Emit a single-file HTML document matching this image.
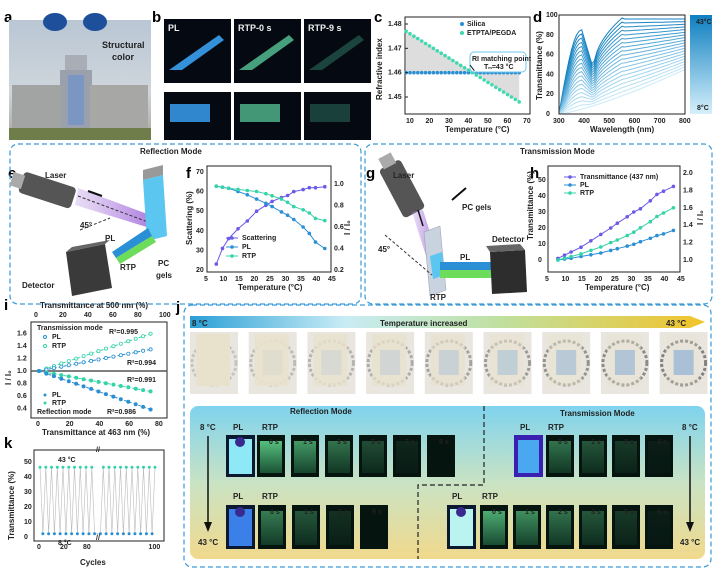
<!DOCTYPE html>
<html><head><meta charset="utf-8"><style>
body{margin:0;background:#fff}
svg{display:block;font-family:"Liberation Sans",Arial,sans-serif}
.L{font-weight:bold;font-size:15px}
.t{font-size:7px;font-weight:bold;fill:#222}
.ax{font-size:8px;font-weight:bold;fill:#222}
</style></head><body>
<svg id="s" width="716" height="569" viewBox="0 0 716 569" xmlns="http://www.w3.org/2000/svg">
<defs>
<linearGradient id="sky" x1="0" y1="0" x2="0" y2="1"><stop offset="0" stop-color="#b9c6d4"/><stop offset="0.6" stop-color="#cfd6dc"/><stop offset="1" stop-color="#a7a79a"/></linearGradient>
<linearGradient id="cb" x1="0" y1="0" x2="0" y2="1"><stop offset="0" stop-color="#0e7fc0"/><stop offset="1" stop-color="#d6f0fb"/></linearGradient>
<linearGradient id="tg" x1="0" y1="0" x2="1" y2="0"><stop offset="0" stop-color="#2a9fd6"/><stop offset="0.3" stop-color="#c8ecf5"/><stop offset="0.6" stop-color="#bfe0a0"/><stop offset="1" stop-color="#f2c42a"/></linearGradient>
<linearGradient id="pg" x1="0" y1="0" x2="0" y2="1"><stop offset="0" stop-color="#7fd3ee"/><stop offset="0.5" stop-color="#c9e3c4"/><stop offset="1" stop-color="#f1d98c"/></linearGradient>
<linearGradient id="beam" x1="0" y1="0" x2="1" y2="0"><stop offset="0" stop-color="#b58fe0" stop-opacity="0.3"/><stop offset="1" stop-color="#9b5fd8" stop-opacity="0.8"/></linearGradient>
<linearGradient id="grn" x1="0" y1="0" x2="0" y2="1"><stop offset="0" stop-color="#5fd28a"/><stop offset="1" stop-color="#1d5a3a"/></linearGradient>
</defs>
<g id="g"></g>
</svg>
<script>
var o='';function a(s){o+=s;}
function T(x,y,s,c,extra){a('<text x="'+x+'" y="'+y+'" '+(c?'class="'+c+'" ':'')+(extra||'')+'>'+s+'</text>');}
function R(x,y,w,h,f,ex){a('<rect x="'+x+'" y="'+y+'" width="'+w+'" height="'+h+'" fill="'+f+'" '+(ex||'')+'/>');}
function P(pts,st,w,ex){a('<polyline fill="none" stroke="'+st+'" stroke-width="'+(w||1)+'" points="'+pts.map(p=>p[0].toFixed(1)+','+p[1].toFixed(1)).join(' ')+'" '+(ex||'')+'/>');}
function C(x,y,r,f,ex){a('<circle cx="'+x.toFixed(1)+'" cy="'+y.toFixed(1)+'" r="'+r+'" fill="'+f+'" '+(ex||'')+'/>');}
function Lg(x1,y1,x2,y2,s,w,ex){a('<line x1="'+x1+'" y1="'+y1+'" x2="'+x2+'" y2="'+y2+'" stroke="'+s+'" stroke-width="'+(w||1)+'" '+(ex||'')+'/>');}
T(4,22,'a','L');T(152,22,'b','L');T(374,22,'c','L');T(533,22,'d','L');
T(8,178,'e','L');T(186,178,'f','L');T(366,178,'g','L');T(530,178,'h','L');
T(4,310,'i','L');T(176,312,'j','L');T(4,448,'k','L');
R(9,20,142,120,'url(#sky)');
a('<ellipse cx="55" cy="22" rx="12" ry="9" fill="#1d4f9a"/><ellipse cx="95" cy="22" rx="12" ry="9" fill="#1d4f9a"/>');
R(65,55,22,20,'#a9aeb6');R(60,70,32,60,'#9aa1ad');R(68,75,16,50,'#7b96c2');
R(12,85,50,45,'#a2a3a3');R(90,85,58,45,'#a7a8a6');R(9,128,142,12,'#6f7d4a');
T(102,48,'Structural','', 'font-size="9" font-weight="bold" fill="#222"');T(112,60,'color','','font-size="9" font-weight="bold" fill="#222"');
var bx=[164,234,304],bl=['PL','RTP-0 s','RTP-9 s'],bc=['#3a9ef0','#4fb08a','#1e4a44'];
for(var i=0;i<3;i++){R(bx[i],19,67,64,'#050a12');R(bx[i],92,67,48,'#050a12');
a('<polygon points="'+(bx[i]+5)+',70 '+(bx[i]+18)+',70 '+(bx[i]+60)+',40 '+(bx[i]+55)+',35" fill="'+bc[i]+'" opacity="0.9"/>');
R(bx[i]+6,104,40,18,bc[i],'opacity="0.85"');
T(bx[i]+4,31,bl[i],'','font-size="9" font-weight="bold" fill="#eee"');}
function cx(t){return 410+(t-10)*117/60}function cy(n){return 24+(1.48-n)*2433}
R(405,17,125,97,'none','stroke="#222"');
a('<polygon points="'+cx(8)+','+cy(1.477)+' '+cx(43)+','+cy(1.46)+' '+cx(8)+','+cy(1.46)+'" fill="#ddd"/>');
a('<polygon points="'+cx(66)+','+cy(1.448)+' '+cx(43)+','+cy(1.46)+' '+cx(66)+','+cy(1.46)+'" fill="#ddd"/>');
for(var t=8;t<=66;t+=2){C(cx(t),cy(1.46),1.8,'#2a8fd4');C(cx(t),cy(1.477-(t-8)*0.029/58),1.8,'#3fd9b0');}
[1.48,1.47,1.46,1.45].forEach(n=>{T(388,cy(n)+2,n.toFixed(2),'t');Lg(405,cy(n),408,cy(n),'#222');});
[10,20,30,40,50,60,70].forEach(v=>T(cx(v)-4,123,v,'t'));
T(445,132,'Temperature (°C)','ax');T(382,100,'Refractive index','ax','transform="rotate(-90 382 100)" font-size="8"');
C(462,24,2,'#2a8fd4');T(467,26,'Silica','t');C(462,33,2,'#3fd9b0');T(467,35,'ETPTA/PEGDA','t');
R(470,52,56,20,'#fff','rx="4" stroke="#6fc8ee" stroke-width="1"');T(472,61,'RI matching point','t','font-size="6"');T(484,69,'T<tspan font-size="4">m</tspan>=43 °C','t','font-size="6"');
Lg(470,65,cx(43),cy(1.46)-2,'#111',1);
function dx(l){return 559+(l-300)*126/500}function dy(v){return 114-v*0.99}
for(var k=0;k<20;k++){var f=k/19,pts=[];for(var l=300;l<=800;l+=10){var u=(l-300)/500;
var hi=(l<390?85*Math.sin((l-300)/90*Math.PI/2):l<437?85-40*(l-390)/47:Math.min(97,45+52*Math.sqrt((l-437)/113)));if(l>550)hi=96;
var lo=45*Math.pow(u,1.3);var v=hi*(1-f)+lo*f;pts.push([dx(l),dy(v)]);}
var c1=[14,127,192],c2=[200,235,250];var col='rgb('+c1.map((c,j)=>Math.round(c+(c2[j]-c)*f)).join(',')+')';P(pts,col,1);}
R(559,15,126,99,'none','stroke="#222"');
[0,20,40,60,80,100].forEach(v=>T(546,dy(v)+2,v,'t'));[300,400,500,600,700,800].forEach(v=>T(dx(v)-6,123,v,'t'));
T(590,132,'Wavelength (nm)','ax');T(542,100,'Transmittance (%)','ax','transform="rotate(-90 542 100)"');
R(690,15,22,99,'url(#cb)');T(696,24,'43°C','t','fill="#fff" font-size="6"');T(697,110,'8°C','t','font-size="6"');
R(10,144,351,160,'none','rx="8" stroke="#3a9ad9" stroke-dasharray="5,3" stroke-width="1.2"');
R(365,144,347,160,'none','rx="8" stroke="#3a9ad9" stroke-dasharray="5,3" stroke-width="1.2"');
T(140,154,'Reflection Mode','ax');T(520,154,'Transmission Mode','ax');
a('<g transform="rotate(18 50 190)"><rect x="20" y="180" width="55" height="22" fill="#555" rx="4"/><rect x="10" y="184" width="12" height="14" fill="#aaa"/></g>');
a('<polygon points="78,188 150,215 150,228 75,205" fill="url(#beam)"/>');Lg(78,196,148,222,'#333',1,'stroke-dasharray="3,2"');
a('<polygon points="143,180 163,175 167,236 147,241" fill="#5bc6f0"/><polygon points="143,180 163,175 163,165 143,170" fill="#999"/>');
a('<polygon points="148,228 112,252 116,258 152,236" fill="#2a8fd4"/><polygon points="152,236 116,258 120,264 156,242" fill="#6ddc5a"/>');
a('<polygon points="66,252 105,244 112,288 72,296" fill="#3a3a3a"/><polygon points="66,252 105,244 110,240 72,247" fill="#666"/>');
T(45,178,'Laser','ax');T(80,228,'45°','ax');T(105,241,'PL','ax');T(120,270,'RTP','ax');T(158,266,'PC','ax');T(156,278,'gels','ax');T(22,288,'Detector','ax');
Lg(80,230,110,218,'#333',1,'stroke-dasharray="3,2"');Lg(88,191,102,196,'#111',2);
function fx(t){return 207+(t-5)*124/40}function fl(s){return 172+(70-s)*98/50}function fr(r){return 184+(1-r)*107.5}
R(207,166,124,106,'none','stroke="#222"');
var ft=[8,10,12,15,18,21,24,26,29,31,33,36,38,40,43],sc=[23,31,36,41,45,50,53,55,57,58,60,61,62,62,62.5],
pl=[.98,.97,.96,.93,.9,.86,.82,.79,.74,.71,.67,.6,.54,.46,.4],rt=[.98,.97,.96,.95,.94,.93,.91,.89,.86,.83,.79,.76,.73,.68,.66];
P(ft.map((t,i)=>[fx(t),fl(sc[i])]),'#6a5ae8',1);ft.forEach((t,i)=>C(fx(t),fl(sc[i]),1.8,'#6a5ae8'));
P(ft.map((t,i)=>[fx(t),fr(pl[i])]),'#2a8fd4',1);ft.forEach((t,i)=>C(fx(t),fr(pl[i]),1.8,'#2a8fd4'));
P(ft.map((t,i)=>[fx(t),fr(rt[i])]),'#35d3a8',1);ft.forEach((t,i)=>C(fx(t),fr(rt[i]),1.8,'#35d3a8'));
[20,30,40,50,60,70].forEach(v=>T(196,fl(v)+2,v,'t'));[0.2,0.4,0.6,0.8,1.0].forEach(v=>T(334,fr(v)+2,v.toFixed(1),'t'));
[5,10,15,20,25,30,35,40,45].forEach(v=>T(fx(v)-3,281,v,'t'));
T(238,290,'Temperature (°C)','ax');T(192,245,'Scattering (%)','ax','transform="rotate(-90 192 245)"');T(350,235,'I / I₀','ax','transform="rotate(-90 350 235)"');
[['Scattering','#6a5ae8'],['PL','#2a8fd4'],['RTP','#35d3a8']].forEach((e,i)=>{Lg(226,238+i*9,238,238+i*9,e[1]);C(232,238+i*9,1.8,e[1]);T(242,240+i*9,e[0],'t');});
a('<g transform="rotate(62 405 190)"><rect x="375" y="180" width="55" height="24" fill="#555" rx="4"/><rect x="365" y="185" width="12" height="14" fill="#aaa"/></g>');
a('<polygon points="412,212 423,210 438,258 428,262" fill="url(#beam)"/>');
a('<polygon points="424,232 440,226 446,290 430,296" fill="#c9d3e0" stroke="#99a" stroke-width="0.5"/><polygon points="430,256 442,252 445,275 433,279" fill="#5bc6f0"/>');
a('<polygon points="440,262 492,262 492,270 440,270" fill="#2a8fd4"/><polygon points="440,270 492,270 492,278 440,278" fill="#6ddc5a"/>');
a('<polygon points="490,252 525,250 527,292 492,294" fill="#2d2d2d"/><polygon points="490,252 525,250 520,244 486,246" fill="#666"/>');
T(393,178,'Laser','ax');T(378,252,'45°','ax');T(462,210,'PC gels','ax');T(492,242,'Detector','ax');T(460,260,'PL','ax');T(430,300,'RTP','ax');
Lg(385,235,432,275,'#333',1,'stroke-dasharray="3,2"');Lg(452,200,466,188,'#111',2);Lg(418,210,423,226,'#111',1.5);
function hx(t){return 548+(t-5)*132/40}function hl(v){return 260-v*1.6}function hr(r){return 260-(r-1)*87}
R(548,166,132,106,'none','stroke="#222"');
var ht=[8,10,12,15,18,21,24,26,29,31,33,36,38,40,43],tr=[1,3,5,8,12,16,20,23,27,30,32,37,41,43,46],
hp=[1,1.01,1.02,1.04,1.06,1.08,1.11,1.13,1.16,1.18,1.21,1.25,1.28,1.3,1.34],hq=[1,1.02,1.04,1.07,1.11,1.15,1.2,1.23,1.28,1.32,1.37,1.44,1.5,1.54,1.6];
P(ht.map((t,i)=>[hx(t),hl(tr[i])]),'#6a5ae8',1);ht.forEach((t,i)=>C(hx(t),hl(tr[i]),1.8,'#6a5ae8'));
P(ht.map((t,i)=>[hx(t),hr(hp[i])]),'#2a8fd4',1);ht.forEach((t,i)=>C(hx(t),hr(hp[i]),1.8,'#2a8fd4'));
P(ht.map((t,i)=>[hx(t),hr(hq[i])]),'#35d3a8',1);ht.forEach((t,i)=>C(hx(t),hr(hq[i]),1.8,'#35d3a8'));
[0,10,20,30,40,50].forEach(v=>T(538,hl(v)+2,v,'t'));[1.0,1.2,1.4,1.6,1.8,2.0].forEach(v=>T(683,hr(v)+2,v.toFixed(1),'t'));
[5,10,15,20,25,30,35,40,45].forEach(v=>T(hx(v)-3,281,v,'t'));
T(585,290,'Temperature (°C)','ax');T(533,240,'Transmittance (%)','ax','transform="rotate(-90 533 240)"');T(703,225,'I / I₀','ax','transform="rotate(-90 703 225)"');
[['Transmittance (437 nm)','#6a5ae8'],['PL','#2a8fd4'],['RTP','#35d3a8']].forEach((e,i)=>{Lg(564,177+i*8,576,177+i*8,e[1]);C(570,177+i*8,1.8,e[1]);T(580,179+i*8,e[0],'t','font-size="6"');});
function ix(t){return 39+t*119/80}function iy(r){return 371-(r-1)*62.5}
R(31,322,136,96,'none','stroke="#222"');Lg(31,371,167,371,'#555',1.5);
function ln(end,col,open){var p=[];for(var t=0;t<=78;t+=5){p.push([ix(t),iy(1+(end-1)*t/78)]);}P(p,col,1,'stroke-dasharray="3,2"');p.forEach(q=>C(q[0],q[1],1.6,open?'#fff':col,'stroke="'+col+'" stroke-width="0.8"'));}
ln(1.62,'#35d3a8',1);ln(1.36,'#2a8fd4',1);ln(0.66,'#35d3a8',0);ln(0.36,'#2a8fd4',0);
[0.4,0.6,0.8,1.0,1.2,1.4,1.6].forEach(v=>T(17,iy(v)+2,v.toFixed(1),'t'));
[0,20,40,60,80].forEach(v=>T(ix(v)-3,426,v,'t','fill="#2a8fd4"'));[0,20,40,60,80,100].forEach(v=>T(37+v*1.25-3,317,v,'t','fill="#35d3a8"'));
T(40,308,'Transmittance at 500 nm (%)','ax','fill="#35d3a8"');T(42,435,'Transmittance at 463 nm (%)','ax','fill="#2a8fd4"');
T(11,385,'I / I₀','ax','transform="rotate(-90 11 385)"');
T(37,330,'Transmission mode','t','font-size="6.5"');C(45,337,1.5,'#fff','stroke="#2a8fd4"');T(52,339,'PL','t');C(45,346,1.5,'#fff','stroke="#35d3a8"');T(52,348,'RTP','t');
C(45,395,1.5,'#2a8fd4');T(52,397,'PL','t');C(45,403,1.5,'#35d3a8');T(52,405,'RTP','t');T(37,414,'Reflection mode','t','font-size="6.5"');
T(109,334,'R²=0.995','t');T(127,365,'R²=0.994','t');T(127,382,'R²=0.991','t');T(107,414,'R²=0.986','t');
function kx(c){return 40+c*1.15}function ky(v){return 537-v*1.5}
R(34,450,130,91,'none','stroke="#222"');
var zz=[];for(var c=0;c<=100;c+=2.5){if(c>48&&c<52)continue;zz.push([kx(c),ky((c/2.5)%2?2.2:46.5)]);}
P(zz,'#bbb',0.6);zz.forEach(p=>C(p[0],p[1],1.5,p[1]<500?'#35d3a8':'#2a8fd4'));
[0,10,20,30,40,50].forEach(v=>T(24,ky(v)+2,v,'t'));[['0',0],['20',20],['80',40],['100',97]].forEach(v=>T(kx(v[1])-3,549,v[0],'t'));
T(80,565,'Cycles','ax');T(14,540,'Transmittance (%)','ax','transform="rotate(-90 14 540)"');
T(58,462,'43 °C','t','fill="#35d3a8"');T(58,545,'8 °C','t','fill="#2a8fd4"');T(96,452,'//','t');T(96,540,'//','t');
R(184,305,527,262,'none','rx="8" stroke="#3a9ad9" stroke-dasharray="5,3" stroke-width="1.2"');
a('<polygon points="190,316 690,316 705,322 690,328 190,328" fill="url(#tg)"/>');
T(192,326,'8 °C','ax','fill="#111"');T(380,326,'Temperature increased','ax','fill="#111"');T(666,326,'43 °C','ax','fill="#111"');
for(var i=0;i<9;i++){var x=190+i*58.7,f=i/8;R(x,332,48,62,'#e9e6df');
a('<circle cx="'+(x+24)+'" cy="'+363+'" r="22" fill="none" stroke="#777" stroke-width="3" stroke-dasharray="3,2" opacity="'+(0.3+0.6*f)+'"/>');
R(x+6,334,34,52,'#e8e1cc','opacity="'+(1-0.7*f)+'"');R(x+14,350,20,25,'#a9c0d6','opacity="'+f+'"');}
R(190,406,515,153,'url(#pg)','rx="8"');
a('<polyline points="484,406 484,485 418,485 418,559" fill="none" stroke="#222" stroke-width="1.2" stroke-dasharray="5,3"/>');
T(290,414,'Reflection Mode','ax','font-size="9"');T(560,416,'Transmission Mode','ax','font-size="9"');
function tile(x,y,h,lab,f){R(x,y,28,h,'#061410');R(x+3,y+6,22,h-10,'url(#grn)','opacity="'+f+'"');if(lab)T(x+12,y+9,lab,'t','fill="#ddd" font-size="8"');}
function plv(x,y,h,col){R(x,y,29,h,'#0a1830');R(x+3,y+4,23,h-7,col);C(x+14,y+7,5,'#3a2a90');}
T(233,430,'PL','ax');T(262,430,'RTP','ax');plv(226,435,42,'#8ee8f6');
['0 s','1 s','3 s','5 s','7 s','9 s'].forEach((l,i)=>tile(257+i*34,435,42,l,Math.max(0,0.9-i*0.2)));
T(233,499,'PL','ax');T(262,499,'RTP','ax');plv(226,505,44,'#3b7fe8');
['0 s','1 s','3 s','5 s'].forEach((l,i)=>tile(258+i*34,505,44,l,Math.max(0,0.55-i*0.2)));
T(520,430,'PL','ax');T(548,430,'RTP','ax');
['0 s','1 s','2 s','4 s'].forEach((l,i)=>tile(546+i*33,435,42,l,Math.max(0,0.5-i*0.15)));
T(452,499,'PL','ax');T(482,499,'RTP','ax');plv(447,505,44,'#b9f4f0');
['0 s','1 s','2 s','3 s','5 s','6 s'].forEach((l,i)=>tile(480+i*33,505,44,l,Math.max(0,0.8-i*0.15)));
a('<rect x="514" y="435" width="29" height="42" fill="#3a20b0"/><rect x="518" y="440" width="21" height="33" fill="#4aa8f0"/>');
T(200,430,'8 °C','ax','fill="#111"');T(198,545,'43 °C','ax','fill="#111"');Lg(208,436,208,524,'#111',1.5);a('<polygon points="204,522 212,522 208,532" fill="#111"/>');
T(682,430,'8 °C','ax','fill="#111"');T(680,545,'43 °C','ax','fill="#111"');Lg(690,436,690,524,'#111',1.5);a('<polygon points="686,522 694,522 690,532" fill="#111"/>');
document.getElementById('g').innerHTML=o;
</script>
</body></html>
